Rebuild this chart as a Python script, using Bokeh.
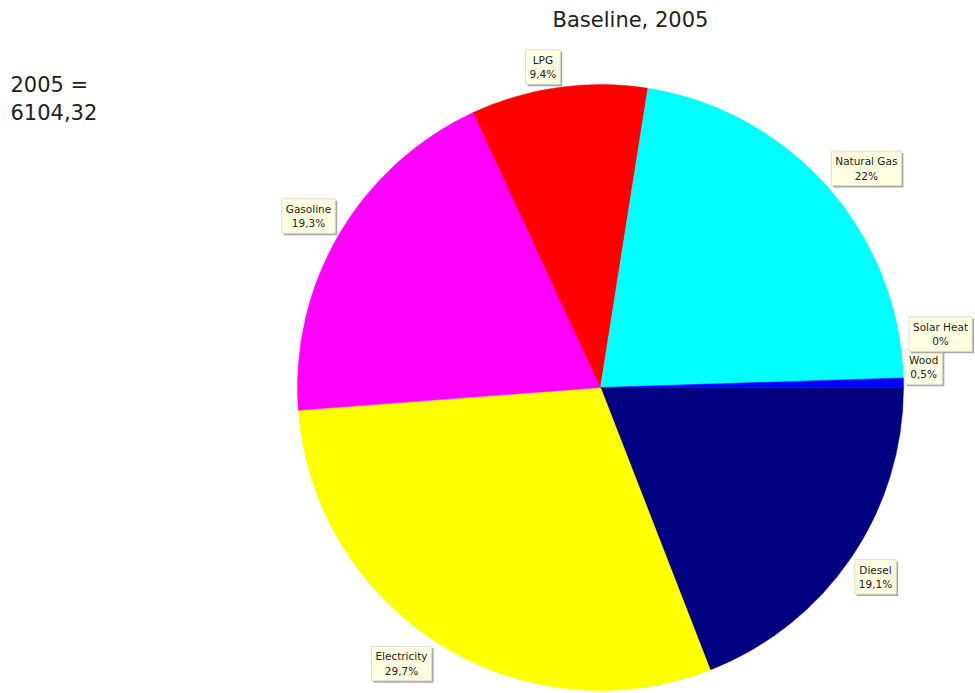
import math
from bokeh.plotting import figure
from bokeh.models import Label, ColumnDataSource
from bokeh.embed import file_html
from bokeh.resources import INLINE

# ---- data ----
categories = ["Diesel", "Electricity", "Gasoline", "LPG", "Natural Gas", "Wood", "Solar Heat"]
shares = [19.1, 29.7, 19.3, 9.4, 22.0, 0.5, 0.0]
colors = ["#000080", "#FFFF00", "#FF00FF", "#FF0000", "#00FFFF", "#0000FF", "#FF8000"]
title_text = "Baseline, 2005"
total_text = "2005 =\n6104,32"

W, H = 975, 693
p = figure(width=W, height=H, x_range=(0, W), y_range=(0, H), min_border=0,
           output_backend="svg", toolbar_location=None, x_axis_type=None, y_axis_type=None)
p.grid.visible = False
p.outline_line_color = None
p.background_fill_color = "white"
p.border_fill_color = "white"

cx, cy, R = 600, H - 387, 303
tot = sum(shares)
starts, ends, mids = [], [], []
acc = 0.0
for v in shares:
    a0 = acc / tot * 2 * math.pi
    acc += v
    a1 = acc / tot * 2 * math.pi
    # clockwise from east -> negative angles
    starts.append(-a1)
    ends.append(-a0)
    mids.append(-(a0 + a1) / 2)

keep = [i for i, v in enumerate(shares) if v > 0]
src = ColumnDataSource(dict(x=[cx] * len(keep), y=[cy] * len(keep),
                            start=[starts[i] for i in keep], end=[ends[i] for i in keep],
                            color=[colors[i] for i in keep], cat=[categories[i] for i in keep]))
p.wedge(x="x", y="y", radius=R, start_angle="start", end_angle="end", fill_color="color",
        line_color="color", line_width=0.5, source=src)

def fmt(v):
    s = ("%g" % v).replace(".", ",")
    return s + "%"

FS = 10.5
char_w = 5.6
box_h = 31
placed = []
RL = 308
for cat, v, m in zip(categories, shares, mids):
    txt = f"{cat}\n{fmt(v)}"
    w = max(len(cat), len(fmt(v))) * char_w + 8
    ax = cx + RL * math.cos(m)
    ay = cy + RL * math.sin(m)
    if math.cos(m) >= -1e-9:
        bx0 = ax
    else:
        bx0 = ax - w
    if math.sin(m) >= -1e-9:
        by0 = ay  # box above anchor (bottom at ay)
    else:
        by0 = ay - box_h
    moved = True
    while moved:
        moved = False
        for (px0, py0, pw) in placed:
            if bx0 < px0 + pw and px0 < bx0 + w and by0 < py0 + box_h and py0 < by0 + box_h:
                by0 = py0 + box_h + 2
                moved = True
    placed.append((bx0, by0, w))
    xc = bx0 + w / 2
    yc = by0 + box_h / 2
    common = dict(x=xc, y=yc, text=txt, text_align="center", text_baseline="middle",
                  text_font="DejaVu Sans", text_font_size=f"{FS}px", text_line_height=1.2,
                  padding=4)
    p.add_layout(Label(x_offset=2, y_offset=-2, text_color="#A8A8A8",
                       background_fill_color="#A8A8A8", background_fill_alpha=1.0, **common))
    p.add_layout(Label(text_color="#222222", background_fill_color="#FFFFE1",
                       border_line_color="#E0DECF", border_line_width=1, **common))

p.add_layout(Label(x=630, y=H - 19, text=title_text, text_align="center", text_baseline="middle",
                   text_font="DejaVu Sans", text_font_size="21px", text_color="#222222"))
p.add_layout(Label(x=10, y=H - 72, text=total_text, text_align="left", text_baseline="top",
                   text_font="DejaVu Sans", text_font_size="21px", text_color="#222222",
                   text_line_height=1.2))

open("out.html", "w").write(file_html(p, INLINE))
